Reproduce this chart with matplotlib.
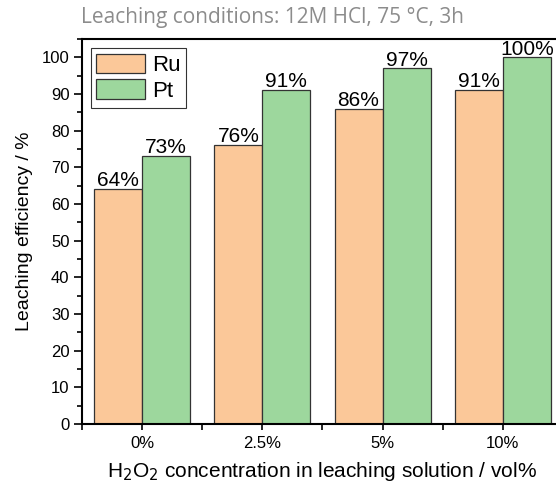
import matplotlib
matplotlib.use("Agg")
import matplotlib.pyplot as plt
from matplotlib.ticker import MultipleLocator, FixedLocator
import numpy as np

categories = ["0%", "2.5%", "5%", "10%"]
ru_values = [64, 76, 86, 91]
pt_values = [73, 91, 97, 100]
series_names = ["Ru", "Pt"]
title_text = "Leaching conditions: 12M HCl, 75 °C, 3h"

plt.rcParams["font.family"] = ["Liberation Sans", "DejaVu Sans"]

fig = plt.figure(figsize=(5.56, 4.86), dpi=100)
ax = fig.add_axes([0.1475, 0.1276, 0.865, 0.792])

x = np.arange(len(categories))
w = 0.4
ru_color = "#FBC899"
pt_color = "#9DD79D"

b1 = ax.bar(x - w / 2, ru_values, width=w, color=ru_color, edgecolor="#333333",
            linewidth=0.9, label=series_names[0])
b2 = ax.bar(x + w / 2, pt_values, width=w, color=pt_color, edgecolor="#333333",
            linewidth=0.9, label=series_names[1])

for bars, vals in ((b1, ru_values), (b2, pt_values)):
    for bar, v in zip(bars, vals):
        ax.text(bar.get_x() + bar.get_width() / 2, v - 0.3, f"{v}%",
                ha="center", va="bottom", fontsize=15)

ax.set_xlim(-0.5, 3.5)
ax.set_ylim(0, 105)
ax.set_xticks(x)
ax.set_xticklabels(categories, fontsize=12)
ax.xaxis.set_minor_locator(FixedLocator(np.arange(-0.5, 3.6, 1.0)))
ax.yaxis.set_major_locator(FixedLocator(np.arange(0, 101, 10)))
ax.yaxis.set_minor_locator(MultipleLocator(5))
ax.tick_params(axis="y", which="major", direction="out", length=6, width=1.2, labelsize=12, pad=3)
ax.tick_params(axis="y", which="minor", direction="out", length=3.5, width=1.2)
ax.tick_params(axis="x", which="major", direction="out", length=4, width=1.2, labelsize=12, pad=5)
ax.tick_params(axis="x", which="minor", direction="out", length=4, width=1.2)
for s in ax.spines.values():
    s.set_linewidth(1.5)

ax.set_ylabel("Leaching efficiency / %", fontsize=14, labelpad=6)
ax.set_xlabel("H$_2$O$_2$ concentration in leaching solution / vol%", fontsize=15, labelpad=6)

leg = ax.legend(loc="upper left", bbox_to_anchor=(0.0, 1.0), fontsize=16,
                frameon=True, fancybox=False, edgecolor="black",
                handlelength=2.2, handleheight=1.0, handletextpad=0.3,
                borderpad=0.25, labelspacing=0.15, borderaxespad=0.4)
leg.get_frame().set_linewidth(0.8)

fig.text(0.49, 0.963, title_text, ha="center", va="center", fontsize=15,
         color="#8c8c8c", family=["Open Sans", "DejaVu Sans"])

fig.savefig("out.png", dpi=100)
